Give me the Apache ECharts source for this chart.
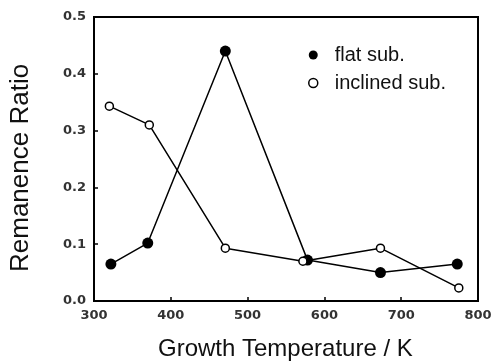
<!DOCTYPE html>
<html>
<head>
<meta charset="utf-8">
<script src="https://cdn.jsdelivr.net/npm/echarts@6/dist/echarts.min.js"></script>
<style>
html,body{margin:0;padding:0;background:#fff;}
#chart{width:495px;height:362px;}
</style>
</head>
<body>
<div id="chart"></div>
<script>
var flatTemps = [322, 370, 471, 578, 673, 773];
var flatRatio = [0.065, 0.102, 0.440, 0.072, 0.050, 0.065];
var inclTemps = [320, 372, 471, 572, 673, 775];
var inclRatio = [0.343, 0.310, 0.093, 0.070, 0.093, 0.023];
var xTicks = [300, 400, 500, 600, 700, 800];
var yTicks = [0.0, 0.1, 0.2, 0.3, 0.4, 0.5];
var seriesNames = ['flat sub.', 'inclined sub.'];

function pairs(xs, ys) { return xs.map(function (x, i) { return [x, ys[i]]; }); }

var chart = echarts.init(document.getElementById('chart'), null, {renderer: 'canvas'});
var tickFont = {fontFamily: 'DejaVu Sans', fontSize: 13, fontWeight: 'bold', color: '#333'};
chart.setOption({
  animation: false,
  backgroundColor: '#fff',
  grid: {left: 94, right: 17, top: 17, bottom: 61, show: true, borderColor: '#000', borderWidth: 2},
  xAxis: {
    type: 'value', min: xTicks[0], max: xTicks[xTicks.length - 1], interval: 100,
    axisLine: {lineStyle: {color: '#000', width: 2}},
    axisTick: {inside: true, length: 4, lineStyle: {color: '#000', width: 1.5}},
    axisLabel: Object.assign({margin: 8}, tickFont),
    splitLine: {show: false}
  },
  yAxis: {
    type: 'value', min: yTicks[0], max: yTicks[yTicks.length - 1], interval: 0.1,
    axisLine: {show: true, lineStyle: {color: '#000', width: 2}},
    axisTick: {show: true, inside: true, length: 4, lineStyle: {color: '#000', width: 1.5}},
    axisLabel: Object.assign({margin: 8, formatter: function (v) { return v.toFixed(1); }}, tickFont),
    splitLine: {show: false}
  },
  legend: {
    orient: 'vertical', left: 303, top: 40, itemGap: 8, itemWidth: 9, itemHeight: 9,
    textStyle: {fontFamily: 'Liberation Sans', fontSize: 20, color: '#111', padding: [0, 0, 0, 12]},
    data: [
      {name: seriesNames[0], icon: 'circle', itemStyle: {color: '#000', borderWidth: 0}},
      {name: seriesNames[1], icon: 'circle', itemStyle: {color: '#fff', borderColor: '#000', borderWidth: 1.5}}
    ]
  },
  graphic: [
    {type: 'text', left: 158, top: 337, style: {text: 'Growth Temperature / K', font: '24px "Liberation Sans"', fill: '#111'}},
    {type: 'text', x: 8, y: 272, rotation: Math.PI / 2, style: {text: 'Remanence Ratio', font: '26px "Liberation Sans"', fill: '#111'}}
  ],
  series: [
    {
      name: seriesNames[0], type: 'line', data: pairs(flatTemps, flatRatio),
      symbol: 'circle', symbolSize: 11,
      lineStyle: {color: '#000', width: 1.5},
      itemStyle: {color: '#000'}, z: 2
    },
    {
      name: seriesNames[1], type: 'line', data: pairs(inclTemps, inclRatio),
      symbol: 'circle', symbolSize: 8,
      lineStyle: {color: '#000', width: 1.5},
      itemStyle: {color: '#fff', borderColor: '#000', borderWidth: 1.5}, z: 3
    }
  ]
});
</script>
</body>
</html>
